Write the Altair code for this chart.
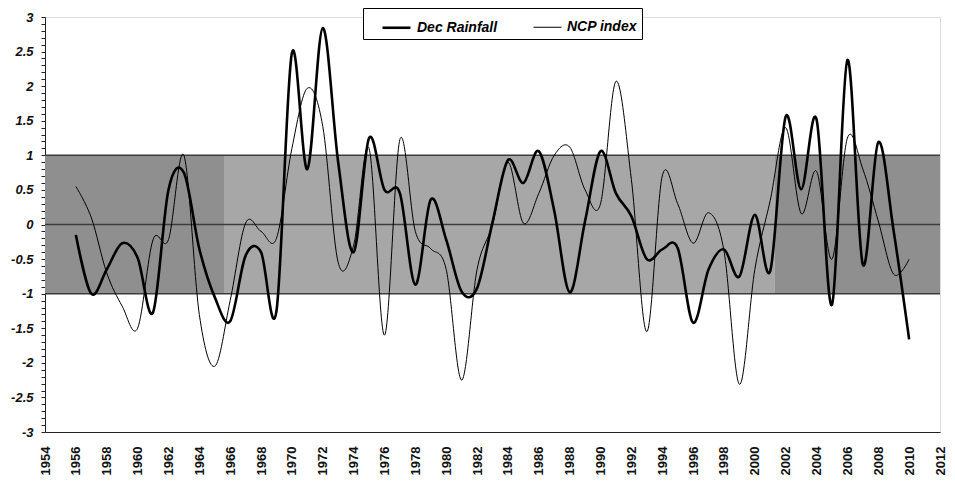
import altair as alt
import pandas as pd

years = [1956, 1957, 1958, 1959, 1960, 1961, 1962, 1963, 1964, 1965,
         1966, 1967, 1968, 1969, 1970, 1971, 1972, 1973, 1974, 1975,
         1976, 1977, 1978, 1979, 1980, 1981, 1982, 1983, 1984, 1985,
         1986, 1987, 1988, 1989, 1990, 1991, 1992, 1993, 1994, 1995,
         1996, 1997, 1998, 1999, 2000, 2001, 2002, 2003, 2004, 2005,
         2006, 2007, 2008, 2009, 2010]

dec_rainfall = [-0.15, -1.0, -0.65, -0.27, -0.48, -1.27, 0.5, 0.75, -0.35, -1.05,
                -1.4, -0.45, -0.4, -1.25, 2.48, 0.8, 2.84, 0.9, -0.4, 1.25,
                0.5, 0.45, -0.87, 0.36, -0.22, -0.97, -0.92, 0.03, 0.93, 0.6,
                1.06, 0.2, -0.98, 0.05, 1.06, 0.45, 0.12, -0.5, -0.36, -0.34,
                -1.42, -0.65, -0.36, -0.75, 0.14, -0.67, 1.56, 0.51, 1.52, -1.16,
                2.38, -0.58, 1.19, -0.1, -1.66]

ncp_index = [0.55, 0.1, -0.7, -1.18, -1.5, -0.22, -0.22, 1.0, -1.3, -2.05,
             -1.1, 0.02, -0.1, -0.2, 1.1, 1.97, 1.42, -0.55, -0.3, 1.1,
             -1.6, 1.23, -0.1, -0.35, -0.65, -2.25, -0.65, 0.0, 0.9, 0.02,
             0.45, 1.0, 1.12, 0.5, 0.3, 2.07, 0.65, -1.55, 0.7, 0.3,
             -0.27, 0.17, -0.38, -2.31, -0.65, 0.35, 1.4, 0.16, 0.77, -0.5,
             1.25, 0.8, 0.05, -0.72, -0.5]

series_names = ["Dec Rainfall", "NCP index"]
x_tick_labels = [1954, 1956, 1958, 1960, 1962, 1964, 1966, 1968, 1970, 1972,
                 1974, 1976, 1978, 1980, 1982, 1984, 1986, 1988, 1990, 1992,
                 1994, 1996, 1998, 2000, 2002, 2004, 2006, 2008, 2010, 2012]
y_ticks = [round(-3 + 0.1 * i, 1) for i in range(61)]

band_start = [1954, 1965.6, 2001.3]
band_end = [1965.6, 2001.3, 2012]
band_shade = ["#8f8f8f", "#a7a7a7", "#8f8f8f"]
ref_levels = [-1, 0, 1]

lines_df = pd.DataFrame({
    "year": years + years,
    "value": ncp_index + dec_rainfall,
    "series": ["NCP index"] * len(years) + ["Dec Rainfall"] * len(years),
    "order": [0] * len(years) + [1] * len(years),
})
band_df = pd.DataFrame({"x0": band_start, "x1": band_end, "shade": band_shade})
ref_df = pd.DataFrame({"level": ref_levels})

FONT = "Liberation Sans"

x_scale = alt.Scale(domain=[1954, 2012], nice=False, zero=False)
y_scale = alt.Scale(domain=[-3, 3], nice=False)

x_axis = alt.Axis(values=x_tick_labels, format="d", labelAngle=270, ticks=False,
                  grid=False, labelFont=FONT, labelFontWeight="bold", labelFontSize=13,
                  labelColor="#111", labelPadding=14, domainColor="#222", title=None,
                  labelOverlap=False, labelAlign="right", labelBaseline="middle")
y_axis = alt.Axis(values=y_ticks, grid=False, tickSize=4, tickColor="#222", ticks=True,
                  labelExpr="(abs(datum.value * 2 - round(datum.value * 2)) < 0.01) ? ('' + datum.value) : ''",
                  labelFont=FONT, labelFontWeight="bold", labelFontStyle="italic",
                  labelFontSize=13, labelColor="#111", labelPadding=8,
                  domainColor="#222", title=None, labelOverlap=False)

band = alt.Chart(band_df).mark_rect().encode(
    x=alt.X("x0:Q", scale=x_scale, axis=x_axis),
    x2="x1:Q",
    y=alt.Y(datum=1, scale=y_scale, axis=y_axis),
    y2=alt.datum(-1),
    color=alt.Color("shade:N", scale=None),
)

rules = alt.Chart(ref_df).mark_rule(color="#3c3c3c", strokeWidth=1.5).encode(
    y=alt.Y("level:Q", scale=y_scale, axis=y_axis),
)

lines = alt.Chart(lines_df).mark_line(interpolate="cardinal", color="#000").encode(
    x=alt.X("year:Q", scale=x_scale, axis=x_axis),
    y=alt.Y("value:Q", scale=y_scale, axis=y_axis),
    order="order:Q",
    strokeWidth=alt.StrokeWidth(
        "series:N",
        scale=alt.Scale(domain=series_names, range=[2.6, 1.0]),
        legend=alt.Legend(
            title=None, orient="none", legendX=318, legendY=-9, direction="horizontal",
            symbolType="stroke", symbolSize=784, symbolStrokeColor="black",
            symbolOffset=14,
            labelFont=FONT, labelFontSize=14, labelFontStyle="italic",
            labelFontWeight="bold", labelColor="black", labelOffset=5,
            columnPadding=21, padding=4, fillColor="white", strokeColor="black",
        ),
    ),
)

chart = alt.layer(band, rules, lines).properties(
    width=895, height=415,
    padding={"left": 37, "top": 9, "right": 7, "bottom": 44},
    autosize=alt.AutoSizeParams(type="none"),
).configure_view(stroke="#222", strokeWidth=1).configure(background="white")

chart.save("out.html", embed_options={"renderer": "svg", "actions": False})
